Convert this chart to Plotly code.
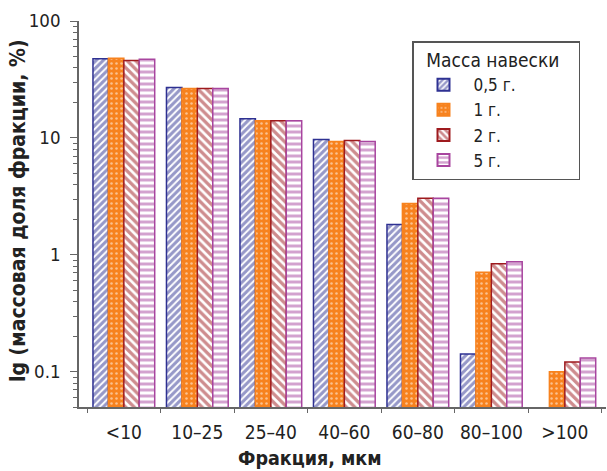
import plotly.graph_objects as go

categories = ["<10", "10–25", "25–40", "40–60", "60–80", "80–100", ">100"]
series_names = ["0,5 г.", "1 г.", "2 г.", "5 г."]
v_05 = [47.5, 27.0, 14.6, 9.7, 1.82, 0.142, None]
v_1 = [48.0, 26.5, 14.0, 9.3, 2.75, 0.71, 0.100]
v_2 = [46.0, 26.5, 14.0, 9.5, 3.05, 0.84, 0.121]
v_5 = [47.0, 26.5, 14.0, 9.3, 3.05, 0.875, 0.131]

FONT = "DejaVu Sans Condensed, Liberation Sans Narrow, sans-serif"
BLUE = "#2e3192"
ORANGE = "#f7821e"
RED = "#9e1a1e"
PURPLE = "#a8459f"

styles = [
    dict(line=BLUE, pattern=dict(shape="/", fgcolor=BLUE, bgcolor="white", size=5, solidity=0.62)),
    dict(line=ORANGE, pattern=dict(shape=".", fgcolor="white", bgcolor=ORANGE, size=5, solidity=0.2)),
    dict(line=RED, pattern=dict(shape="\\", fgcolor=RED, bgcolor="white", size=6, solidity=0.55)),
    dict(line=PURPLE, pattern=dict(shape="-", fgcolor=PURPLE, bgcolor="white", size=6, solidity=0.5)),
]

fig = go.Figure()
for name, vals, st in zip(series_names, [v_05, v_1, v_2, v_5], styles):
    fig.add_trace(go.Bar(
        x=categories, y=vals, name=name,
        marker=dict(color="white", line=dict(color=st["line"], width=1.5), pattern=st["pattern"]),
    ))

fig.update_layout(
    width=607, height=471,
    margin=dict(l=79, r=1, t=21, b=64, autoexpand=False),
    paper_bgcolor="white", plot_bgcolor="white",
    barmode="group", bargap=0.16, bargroupgap=0,
    font=dict(family=FONT, size=18, color="#222"),
    showlegend=True,
    legend=dict(
        title=dict(text="\u00a0\u00a0Масса навески\u00a0\u00a0\u00a0", font=dict(size=19, family=FONT)),
        font=dict(size=17, family=FONT),
        x=(412 - 79) / 527, xanchor="left",
        y=1 - (41 - 21) / 386, yanchor="top",
        bordercolor="#555", borderwidth=1.5, bgcolor="white",
        tracegroupgap=0, itemsizing="constant", itemwidth=50,
    ),
    xaxis=dict(
        type="category", range=[-0.61, 6.56], automargin=False,
        showline=True, linecolor="#666", linewidth=1.5,
        ticks="outside", tickson="boundaries", ticklen=4, tickcolor="#666",
        tickangle=0,
        tickfont=dict(size=19, family=FONT, color="#222"),
        ticklabelstandoff=7, showgrid=False, zeroline=False,
    ),
    yaxis=dict(
        type="log", range=[-1.301, 2], automargin=False,
        showline=True, linecolor="#666", linewidth=1.5,
        ticks="outside", ticklen=7, tickcolor="#666",
        tickvals=[0.1, 1, 10, 100], ticktext=["0.1", "1", "10", "100"],
        tickfont=dict(size=18.5, family=FONT, color="#222"),
        ticklabelstandoff=6,
        minor=dict(ticks="outside", ticklen=4, tickcolor="#666",
                   tickvals=[0.05, 0.06, 0.07, 0.08, 0.09, 0.2, 0.3, 0.4, 0.5, 0.6, 0.7, 0.8, 0.9,
                             2, 3, 4, 5, 6, 7, 8, 9, 20, 30, 40, 50, 60, 70, 80, 90]),
        showgrid=False, zeroline=False,
    ),
    annotations=[
        dict(text="<b>Фракция, мкм</b>", xref="paper", yref="paper",
             x=(310 - 79) / 527, y=-(458 - 407) / 386, xanchor="center", yanchor="middle",
             showarrow=False, font=dict(size=19.5, family=FONT, color="#222")),
        dict(text="<b>lg (массовая доля фракции, %)</b>", xref="paper", yref="paper",
             x=-(79 - 18) / 527, y=1 - (211 - 21) / 386, xanchor="center", yanchor="middle",
             textangle=-90, showarrow=False, font=dict(size=21, family=FONT, color="#222")),
    ],
)

fig.write_html("out.html")
